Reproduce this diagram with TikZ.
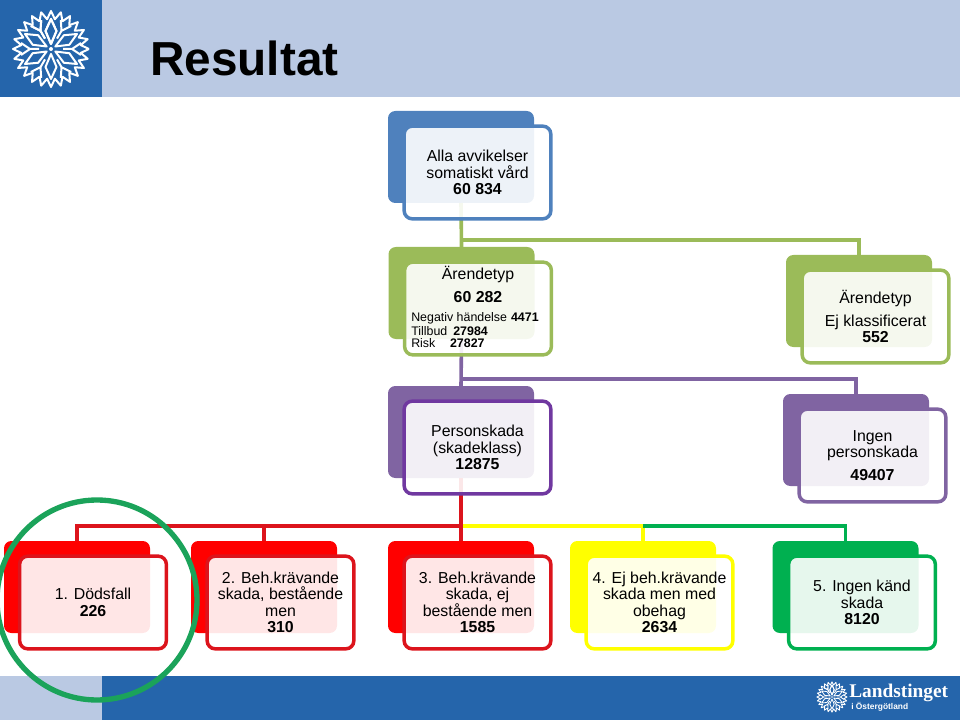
\documentclass[tikz,border=0pt]{standalone}
\usepackage{fontspec}
\setmainfont{Liberation Sans}
\newfontfamily\landfont{Liberation Serif}
\definecolor{lstblue}{HTML}{2565AB}
\definecolor{lstpale}{HTML}{BAC9E3}
\definecolor{orgblue}{HTML}{4F81BD}
\definecolor{orggreen}{HTML}{9BBB59}
\definecolor{orgpurple}{HTML}{8064A2}
\definecolor{orgdeep}{HTML}{7038A0}
\definecolor{orgred}{HTML}{FF0000}
\definecolor{orgline}{HTML}{DC141C}
\definecolor{orgyellow}{HTML}{FFFF00}
\definecolor{orgemerald}{HTML}{00B050}
\definecolor{ringgreen}{HTML}{1BA35A}
\tikzset{
  backbox/.style={fill=#1, draw=none, rounded corners=5.5pt, inner sep=0pt, outer sep=0pt,
    minimum width=109.5pt, minimum height=69pt},
  frontbox/.style={draw=#1, line width=2.6pt, fill=white, fill opacity=0.9, text opacity=1,
    rounded corners=6pt, inner sep=0pt, outer sep=0pt, align=center, font=\orgfont,
    minimum width=110pt, minimum height=69.5pt},
  link/.style={draw=#1, line width=2.7pt},
  label/.style={inner sep=0pt, align=center, font=\orgfont},
  tiny/.style={inner sep=0pt, anchor=west, font=\fontsize{9.3}{9.3}\selectfont},
  pics/flake/.style={code={
    \draw[white, line width=#1, line join=round] plot[domain=0:360, samples=49]
      ({(34+(-1)^(round(\x/7.5))*4)*cos(\x)}, {(34+(-1)^(round(\x/7.5))*4)*sin(\x)});
    \foreach \a in {90,150,...,450} {
      \draw[white, line width=#1, line join=round, rotate=\a]
        (5,0) -- (18,5.5) -- (30,0) -- (18,-5.5) -- cycle;
      \draw[white, line width=#1, line join=round, rotate=\a+30]
        (12,0) -- (21,0) -- (30,6) (21,0) -- (30,-6);
    }
    \fill[white] (0,0) circle (2);
  }}
}
\newcommand{\orgfont}{\fontsize{11.9}{12.4}\selectfont}
\begin{document}
\begin{tikzpicture}[x=0.75pt, y=-0.75pt]
  \useasboundingbox (0,0) rectangle (960,720);

  % Header and footer bands
  \fill[lstpale] (102,0) rectangle (960,97);
  \fill[lstblue] (0,0) rectangle (102,97);
  \fill[lstpale] (0,676) rectangle (102,720);
  \fill[lstblue] (102,676) rectangle (960,720);
  \pic at (51,49) {flake=1.5pt};
  \pic[scale=0.4] at (832,697) {flake=0.65pt};
  \node[inner sep=0pt, anchor=west, text=black] (title) at (150,58)
    {\fontsize{35.8}{35.8}\selectfont\bfseries Resultat};
  \node[inner sep=0pt, anchor=west, text=white] (landname) at (849,693)
    {\landfont\fontsize{14.5}{14.5}\selectfont\bfseries Landstinget};
  \node[inner sep=0pt, anchor=west, text=white] (landsub) at (851,706.5)
    {\fontsize{6.3}{6.3}\selectfont\bfseries i Östergötland};

  % Back boxes
  \foreach \name/\x/\y/\col in {backAll/461/157/orgblue, backType/461.5/293/orggreen,
      backNone/859/301/orggreen, backInjury/461/432/orgpurple, backNoInjury/856/440/orgpurple,
      backOne/77/587/orgred, backTwo/264/587/orgred, backThree/461/587/orgred,
      backFour/643/587/orgyellow, backFive/845.5/587/orgemerald} {
    \node[backbox=\col] (\name) at (\x,\y) {};
  }

  % Connectors, below the front boxes
  \coordinate (forkType) at (461,240);
  \coordinate (forkInjury) at (461,379);
  \coordinate (forkRed) at (461,526);
  \coordinate (forkYellow) at (643,526);
  \draw[link=orggreen] (backAll.south) -- (backType.north);
  \draw[link=orggreen] (forkType) -| (backNone.north);
  \draw[link=orgpurple] (backType.south) -- (backInjury.north);
  \draw[link=orgpurple] (forkInjury) -| (backNoInjury.north);
  \draw[link=orgyellow] (forkRed) -- (forkYellow) -- (backFour.north);
  \draw[link=orgemerald] (forkYellow) -| (backFive.north);
  \draw[link=orgline] (forkRed) -| (backOne.north);
  \draw[link=orgline] (forkRed) -| (backTwo.north);
  \draw[link=orgline] (backInjury.south) -- (backThree.north);

  % Front boxes
  \node[frontbox=orgblue] (frontAll) at (477.5,172.5)
    {Alla avvikelser\\somatiskt vård\\\textbf{60 834}};
  \node[frontbox=orggreen] (frontType) at (478,308.5) {};
  \node[frontbox=orggreen] (frontNone) at (875.5,316.5)
    {Ärendetyp\\[5pt]Ej klassificerat\\\textbf{552}};
  \node[frontbox=orgdeep] (frontInjury) at (477.5,447.5)
    {Personskada\\(skadeklass)\\\textbf{12875}};
  \node[frontbox=orgpurple] (frontNoInjury) at (872.5,455.5)
    {Ingen\\personskada\\[5pt]\textbf{49407}};
  \node[frontbox=orgline] (frontOne) at (93,602.5) {1. Dödsfall\\\textbf{226}};
  \node[frontbox=orgline] (frontTwo) at (280.5,602.5)
    {2. Beh.krävande\\skada, bestående\\men\\\textbf{310}};
  \node[frontbox=orgline] (frontThree) at (477.5,602.5)
    {3. Beh.krävande\\skada, ej\\bestående men\\\textbf{1585}};
  \node[frontbox=orgyellow] (frontFour) at (659.5,602.5)
    {4. Ej beh.krävande\\skada men med\\obehag\\\textbf{2634}};
  \node[frontbox=orgemerald] (frontFive) at (862,602.5)
    {5. Ingen känd\\skada\\\textbf{8120}};

  % Texts of the second box
  \node[label] (typeName) at (478,275) {Ärendetyp};
  \node[label] (typeSum) at (478,297.5) {\textbf{60 282}};
  \node[tiny] (typeNeg) at (411,318.5) {Negativ händelse\hspace{3pt}\textbf{4471}};
  \node[tiny] (typeNear) at (411,331) {Tillbud\hspace{4.5pt}\textbf{27984}};
  \node[tiny] (typeRisk) at (411,343) {Risk\hspace{11pt}\textbf{27827}};

  % Ring round the first box
  \draw[ringgreen, line width=4pt] (97,600) circle (100);
\end{tikzpicture}
\end{document}
